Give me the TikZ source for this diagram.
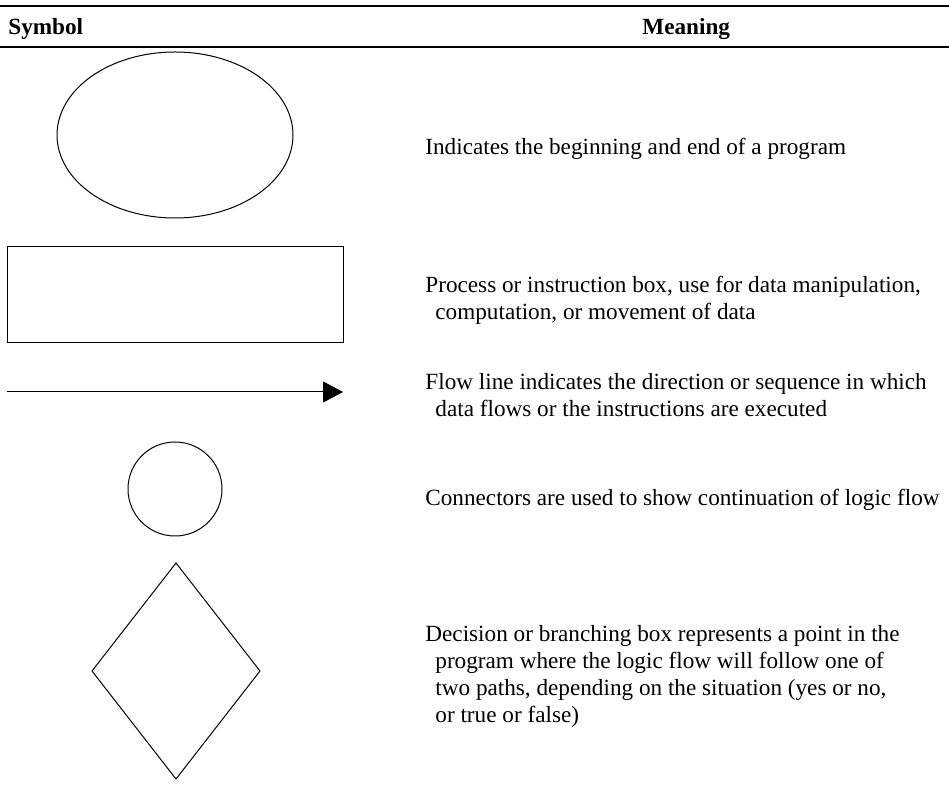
\documentclass[tikz,border=0pt]{standalone}
\usepackage{fontspec}
\setmainfont{Liberation Serif}
\usetikzlibrary{shapes.geometric,arrows.meta}

\tikzset{
  rulerline/.style={line width=0.65pt},
  symbolshape/.style={draw, line width=0.5pt, inner sep=0pt, outer sep=0pt},
  headtext/.style={anchor=base west, inner sep=0pt, font=\fontsize{11.6}{13.5}\selectfont\bfseries},
  % multi-line descriptions are placed by the baseline of their last line
  meaningtext/.style={anchor=base west, inner sep=0pt, align=left,
                      font=\fontsize{11.6}{13.5}\selectfont},
  flowarrow/.style={line width=0.5pt, -{Triangle[length=10pt,width=10.5pt]}},
}

% continuation lines of a description are set in by a small step
\newcommand{\contline}{\hspace*{5pt}}

\begin{document}
\begin{tikzpicture}[x=0.5pt, y=-0.5pt]
  \useasboundingbox (0,0) rectangle (949,790);

  % table head
  \coordinate (topL) at (0,6);
  \coordinate (topR) at (949,6);
  \coordinate (midL) at (0,47);
  \coordinate (midR) at (949,47);
  \draw[rulerline] (topL) -- (topR);
  \draw[rulerline] (midL) -- (midR);
  \node[headtext] (hsym) at (8,35) {Symbol};
  \node[headtext] (hmean) at (642,35) {Meaning};

  % terminal
  \node[symbolshape, ellipse, minimum width=118pt, minimum height=83pt] (term) at (175,135) {};
  \node[meaningtext] (tterm) at (425,155) {Indicates the beginning and end of a program};

  % process box
  \node[symbolshape, rectangle, minimum width=168pt, minimum height=48pt] (proc) at (175,295) {};
  \node[meaningtext] (tproc) at (425,320) {Process or instruction box, use for data manipulation,\\
    \contline computation, or movement of data};

  % flow line
  \coordinate (flowS) at (7,392);
  \coordinate (flowE) at (343,392);
  \draw[flowarrow] (flowS) -- (flowE);
  \node[meaningtext] (tflow) at (425,417) {Flow line indicates the direction or sequence in which\\
    \contline data flows or the instructions are executed};

  % connector
  \node[symbolshape, circle, minimum size=47pt] (conn) at (175,489) {};
  \node[meaningtext] (tconn) at (425,506) {Connectors are used to show continuation of logic flow};

  % decision
  \node[symbolshape, diamond, minimum width=84pt, minimum height=108pt] (dec) at (176,671) {};
  \node[meaningtext] (tdec) at (425,723) {Decision or branching box represents a point in the\\
    \contline program where the logic flow will follow one of\\
    \contline two paths, depending on the situation (yes or no,\\
    \contline or true or false)};
\end{tikzpicture}
\end{document}
